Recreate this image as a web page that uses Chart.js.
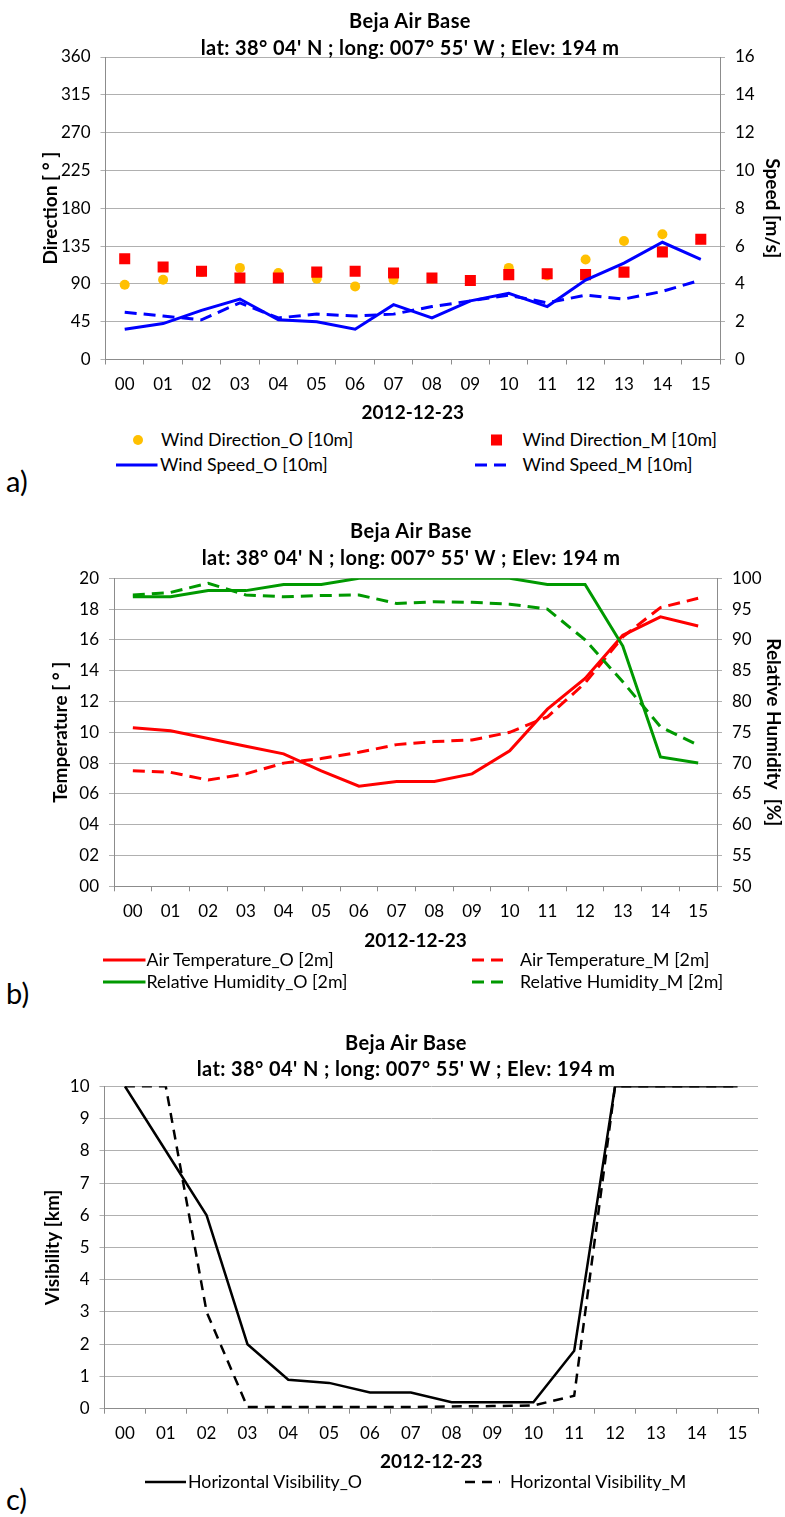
<!DOCTYPE html>
<html>
<head>
<meta charset="utf-8">
<script src="https://cdn.jsdelivr.net/npm/chart.js@4.4.1/dist/chart.umd.min.js"></script>
<style>
  body { margin: 0; width: 785px; height: 1517px; position: relative; background: #fff;
         font-family: Lato, 'Open Sans', sans-serif; color: #000; overflow: hidden; }
  canvas { position: absolute; left: 0; }
  .txt { position: absolute; white-space: nowrap; transform: translateY(-50%); line-height: 1; }
  .ttl { font-weight: bold; font-size: 20px; letter-spacing: 0.4px; transform: translate(-50%, -50%); }
  .leg { font-size: 17.8px; }
  .tag { font-size: 29px; }
  svg.sample { position: absolute; overflow: visible; }
</style>
</head>
<body>
<canvas id="windChart" width="785" height="425" style="top:0"></canvas>
<canvas id="tempChart" width="785" height="455" style="top:500px"></canvas>
<canvas id="visChart" width="785" height="465" style="top:1010px"></canvas>

<script>
// hours of 2012-12-23
const hours = ['00', '01', '02', '03', '04', '05', '06', '07', '08', '09', '10', '11', '12', '13', '14', '15'];

// a) wind at 10 m
const windDirObs = [89, 95, 104, 109, 103, 96, 87, 95, 96, 94, 109, 100, 119, 141, 149, 143];
const windDirMod = [120, 110, 105, 97, 97, 104, 105, 103, 97, 94, 101, 102, 101, 104, 128, 143];
const windSpdObs = [1.6, 1.9, 2.6, 3.2, 2.1, 2.0, 1.6, 2.9, 2.2, 3.1, 3.5, 2.8, 4.2, 5.1, 6.2, 5.3];
const windSpdMod = [2.5, 2.3, 2.1, 3.0, 2.2, 2.4, 2.3, 2.4, 2.8, 3.1, 3.4, 3.0, 3.4, 3.2, 3.6, 4.2];

// b) air temperature and relative humidity at 2 m
const tempObs = [10.3, 10.1, 9.6, 9.1, 8.6, 7.5, 6.5, 6.8, 6.8, 7.3, 8.8, 11.5, 13.5, 16.3, 17.5, 16.9];
const tempMod = [7.5, 7.4, 6.9, 7.3, 8.0, 8.3, 8.7, 9.2, 9.4, 9.5, 10.0, 11.0, 13.2, 16.2, 18.1, 18.7];
const rhObs = [97, 97, 98, 98, 99, 99, 100, 100, 100, 100, 100, 99, 99, 89, 71, 70];
const rhMod = [97.3, 97.7, 99.2, 97.3, 97.0, 97.2, 97.3, 95.9, 96.2, 96.1, 95.8, 95.0, 90.0, 83.2, 75.9, 72.9];

// c) horizontal visibility
const visObs = [10, 8, 6, 2, 0.9, 0.8, 0.5, 0.5, 0.2, 0.2, 0.2, 1.8, 10, 10, 10, 10];
const visMod = [10, 10, 3, 0.05, 0.05, 0.05, 0.05, 0.05, 0.07, 0.08, 0.1, 0.4, 10, 10, 10, 10];

const station = ['Beja Air Base', "lat: 38° 04' N ; long: 007° 55' W  ; Elev: 194 m"];
const dateLabel = '2012-12-23';

const axisGrey = '#8c8c8c';
const gridGrey = '#b0b0b0';
const dash = [12, 7];

Chart.defaults.font.family = "Lato, 'Open Sans', sans-serif";
Chart.defaults.font.size = 17;
Chart.defaults.color = '#000';

const tickFont = { size: 17 };
const titleFont = { size: 19, weight: 'bold' };
const pad2 = v => String(v).padStart(2, '0');

function xAxis(height, padBottom) {
  return {
    offset: true,
    grid: { offset: true, drawOnChartArea: false, drawTicks: true, tickLength: 5, color: axisGrey },
    border: { color: axisGrey },
    ticks: { font: tickFont, padding: 10, autoSkip: false, maxRotation: 0 },
    title: { display: true, text: dateLabel, font: titleFont, padding: { top: 0, bottom: padBottom } },
    afterFit: s => { s.height = height; }
  };
}

function yAxis(opts) {
  return {
    position: opts.pos,
    min: opts.min, max: opts.max,
    ticks: { stepSize: opts.step, font: tickFont, padding: 10, callback: opts.fmt },
    grid: { color: gridGrey, tickLength: 5, drawOnChartArea: opts.pos === 'left' },
    border: { color: axisGrey },
    title: { display: true, text: opts.title, font: titleFont, padding: { top: opts.titlePad, bottom: 0 } },
    afterFit: s => { s.width = opts.width; }
  };
}

const baseOpts = {
  responsive: false,
  animation: false,
  events: [],
  plugins: { legend: { display: false }, tooltip: { enabled: false } }
};

const windChart = new Chart(document.getElementById('windChart'), {
  type: 'line',
  data: {
    labels: hours,
    datasets: [
      { label: 'Wind Direction_O [10m]', data: windDirObs, yAxisID: 'y', showLine: false,
        pointStyle: 'circle', pointRadius: 5, backgroundColor: '#ffc000', borderColor: '#ffc000', borderWidth: 0, order: 4 },
      { label: 'Wind Direction_M [10m]', data: windDirMod, yAxisID: 'y', showLine: false,
        pointStyle: 'rect', pointRadius: 7.8, backgroundColor: '#ff0000', borderColor: '#ff0000', borderWidth: 0, order: 3 },
      { label: 'Wind Speed_O [10m]', data: windSpdObs, yAxisID: 'y1', borderColor: '#0000ff',
        borderWidth: 3, pointRadius: 0, order: 2 },
      { label: 'Wind Speed_M [10m]', data: windSpdMod, yAxisID: 'y1', borderColor: '#0000ff',
        borderWidth: 3, borderDash: dash, pointRadius: 0, order: 1 }
    ]
  },
  options: Object.assign({}, baseOpts, {
    layout: { padding: { top: 57, left: 0, right: 0, bottom: 0 } },
    scales: {
      x: xAxis(65.5, 1),
      y: yAxis({ pos: 'left', min: 0, max: 360, step: 45, title: 'Direction [ ° ]', titlePad: 39, width: 105.5 }),
      y1: yAxis({ pos: 'right', min: 0, max: 16, step: 2, title: 'Speed [m/s]', titlePad: 1, width: 65 })
    }
  })
});

const tempChart = new Chart(document.getElementById('tempChart'), {
  type: 'line',
  data: {
    labels: hours,
    datasets: [
      { label: 'Air Temperature_O [2m]', data: tempObs, yAxisID: 'y', borderColor: '#ff0000',
        borderWidth: 3, pointRadius: 0, order: 4 },
      { label: 'Air Temperature_M [2m]', data: tempMod, yAxisID: 'y', borderColor: '#ff0000',
        borderWidth: 3, borderDash: dash, pointRadius: 0, order: 3 },
      { label: 'Relative Humidity_O [2m]', data: rhObs, yAxisID: 'y1', borderColor: '#009900',
        borderWidth: 3, pointRadius: 0, order: 2 },
      { label: 'Relative Humidity_M [2m]', data: rhMod, yAxisID: 'y1', borderColor: '#009900',
        borderWidth: 3, borderDash: dash, pointRadius: 0, order: 1 }
    ]
  },
  options: Object.assign({}, baseOpts, {
    layout: { padding: { top: 78.3, left: 0, right: 0, bottom: 0 } },
    scales: {
      x: xAxis(68.7, 3),
      y: yAxis({ pos: 'left', min: 0, max: 20, step: 2, fmt: pad2, title: 'Temperature [ ° ]', titlePad: 49, width: 114 }),
      y1: yAxis({ pos: 'right', min: 50, max: 100, step: 5, title: 'Relative Humidity  [%]', titlePad: 0, width: 68 })
    }
  })
});

const visChart = new Chart(document.getElementById('visChart'), {
  type: 'line',
  data: {
    labels: hours,
    datasets: [
      { label: 'Horizontal Visibility_O', data: visObs, borderColor: '#000',
        borderWidth: 2.5, pointRadius: 0, order: 2 },
      { label: 'Horizontal Visibility_M', data: visMod, borderColor: '#000',
        borderWidth: 2.5, borderDash: [10, 7], pointRadius: 0, order: 1 }
    ]
  },
  options: Object.assign({}, baseOpts, {
    layout: { padding: { top: 76.3, left: 0, right: 27, bottom: 0 } },
    scales: {
      x: xAxis(66.3, 2),
      y: yAxis({ pos: 'left', min: 0, max: 10, step: 1, title: 'Visibility [km]', titlePad: 41, width: 104.5 })
    }
  })
});

// ---- text around the charts ----
function put(text, x, y, cls) {
  const d = document.createElement('div');
  d.className = 'txt ' + cls;
  d.textContent = text;
  d.style.left = x + 'px';
  d.style.top = y + 'px';
  document.body.appendChild(d);
  return d;
}

function titles(x, y1, y2) {
  put(station[0], x, y1, 'ttl');
  put(station[1], x, y2, 'ttl');
}

titles(410, 20, 46.5);
titles(411, 530, 556.5);
titles(406, 1041.5, 1067.5);

// legend rows built from each chart's datasets
function legend(chart, spots) {
  const NS = 'http://www.w3.org/2000/svg';
  chart.data.datasets.forEach((ds, i) => {
    const s = spots[i];
    const w = s.x1 - s.x0;
    const svg = document.createElementNS(NS, 'svg');
    svg.setAttribute('class', 'sample');
    svg.setAttribute('width', w);
    svg.setAttribute('height', 12);
    svg.style.left = s.x0 + 'px';
    svg.style.top = (s.y - 6) + 'px';
    let el;
    if (ds.showLine === false && ds.pointStyle === 'circle') {
      el = document.createElementNS(NS, 'circle');
      el.setAttribute('cx', w / 2); el.setAttribute('cy', 6); el.setAttribute('r', ds.pointRadius);
      el.setAttribute('fill', ds.backgroundColor);
    } else if (ds.showLine === false) {
      const side = ds.pointRadius * Math.SQRT2;
      el = document.createElementNS(NS, 'rect');
      el.setAttribute('x', (w - side) / 2); el.setAttribute('y', 6 - side / 2);
      el.setAttribute('width', side); el.setAttribute('height', side);
      el.setAttribute('fill', ds.backgroundColor);
    } else {
      el = document.createElementNS(NS, 'line');
      el.setAttribute('x1', 0); el.setAttribute('x2', w);
      el.setAttribute('y1', 6); el.setAttribute('y2', 6);
      el.setAttribute('stroke', ds.borderColor);
      el.setAttribute('stroke-width', ds.borderWidth);
      if (ds.borderDash) el.setAttribute('stroke-dasharray', ds.borderDash.join(' '));
    }
    svg.appendChild(el);
    document.body.appendChild(svg);
    put(ds.label, s.tx, s.y, 'leg');
  });
}

legend(windChart, [
  { x0: 132.5, x1: 142.5, y: 439.5, tx: 161 },
  { x0: 491, x1: 502, y: 439.5, tx: 522.5 },
  { x0: 116, x1: 157.5, y: 465, tx: 160 },
  { x0: 475, x1: 507.5, y: 465, tx: 522.5 }
]);
legend(tempChart, [
  { x0: 102.5, x1: 145, y: 960, tx: 146.5 },
  { x0: 472, x1: 507, y: 960, tx: 520 },
  { x0: 102.5, x1: 145, y: 982, tx: 146.5 },
  { x0: 472, x1: 507, y: 982, tx: 520 }
]);
legend(visChart, [
  { x0: 145, x1: 186, y: 1482, tx: 188 },
  { x0: 465, x1: 500, y: 1482, tx: 510 }
]);

put('a)', 6, 480, 'tag');
put('b)', 6, 992, 'tag');
put('c)', 6, 1498, 'tag');
</script>
</body>
</html>
